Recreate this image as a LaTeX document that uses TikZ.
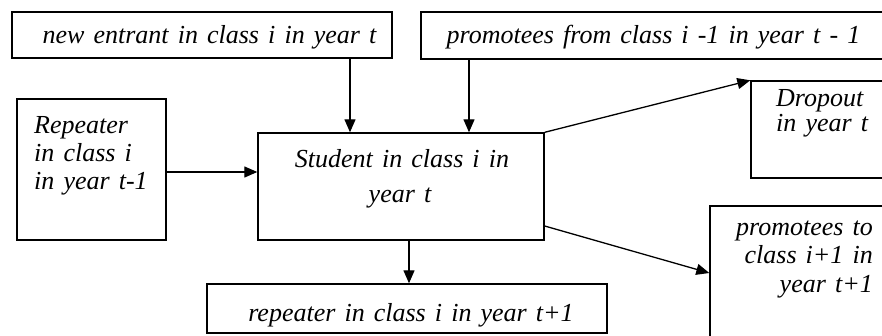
\documentclass[tikz,border=0pt]{standalone}
\usepackage{fontspec}
\setmainfont{Liberation Serif}[WordSpace=1.4]
\usetikzlibrary{arrows.meta}
\tikzset{
  box/.style={draw, line width=1.4pt, rectangle, inner sep=0pt},
  txt/.style={inner sep=0pt, font=\itshape\fontsize{26}{28}\selectfont},
  arr/.style={line width=1.3pt, -{Triangle[length=13pt,width=11pt]}},
}
\begin{document}
\begin{tikzpicture}[x=1pt,y=-1pt]
\useasboundingbox (0,0) rectangle (882,335);
\clip (0,0) rectangle (882,335);
% boxes
\node[box, minimum width=380pt, minimum height=46pt] (ne) at (202,35) {};
\node[box, minimum width=470pt, minimum height=47pt] (pf) at (656,35.5) {};
\node[box, minimum width=149pt, minimum height=141pt] (rep) at (91.5,169.5) {};
\node[box, minimum width=286pt, minimum height=107pt] (st) at (401,186.5) {};
\node[box, minimum width=160pt, minimum height=97pt] (dr) at (831,129.5) {};
\node[box, minimum width=200pt, minimum height=160pt] (pt) at (810,286) {};
\node[box, minimum width=400pt, minimum height=49pt] (rp) at (407,308.5) {};
% texts
\node[txt, anchor=base] (tne) at (209.5,43) {new entrant in class i in year t};
\node[txt, anchor=base] (tpf) at (653.5,43) {promotees from class i -1 in year t - 1};
\node[txt, anchor=base west] (trep1) at (34,133) {Repeater};
\node[txt, anchor=base west] (trep2) at (34,161) {in class i};
\node[txt, anchor=base west] (trep3) at (34,189) {in year t-1};
\node[txt, anchor=base] (tst1) at (402,167) {Student in class i in};
\node[txt, anchor=base] (tst2) at (400,202) {year t};
\node[txt, anchor=base west] (tdr1) at (776,106) {Dropout};
\node[txt, anchor=base west] (tdr2) at (776,131) {in year t};
\node[txt, anchor=base east] (tpt1) at (873,235) {promotees to};
\node[txt, anchor=base east] (tpt2) at (873,263) {class i+1 in};
\node[txt, anchor=base east] (tpt3) at (873,292) {year t+1};
\node[txt, anchor=base] (trp) at (411,321) {repeater in class i in year t+1};
% connectors
\coordinate (xa) at (350,0);
\coordinate (xb) at (469,0);
\coordinate (xc) at (409,0);
\coordinate (ya) at (0,172);
\coordinate (yb) at (0,226);
\coordinate (yc) at (0,273);
\draw[arr] (xa |- ne.south) -- (xa |- st.north);
\draw[arr] (xb |- pf.south) -- (xb |- st.north);
\draw[arr] (rep.east |- ya) -- (st.west |- ya);
\draw[arr] (st.north east) -- (dr.north west);
\draw[arr] (st.east |- yb) -- (pt.west |- yc);
\draw[arr] (xc |- st.south) -- (xc |- rp.north);
\end{tikzpicture}
\end{document}
